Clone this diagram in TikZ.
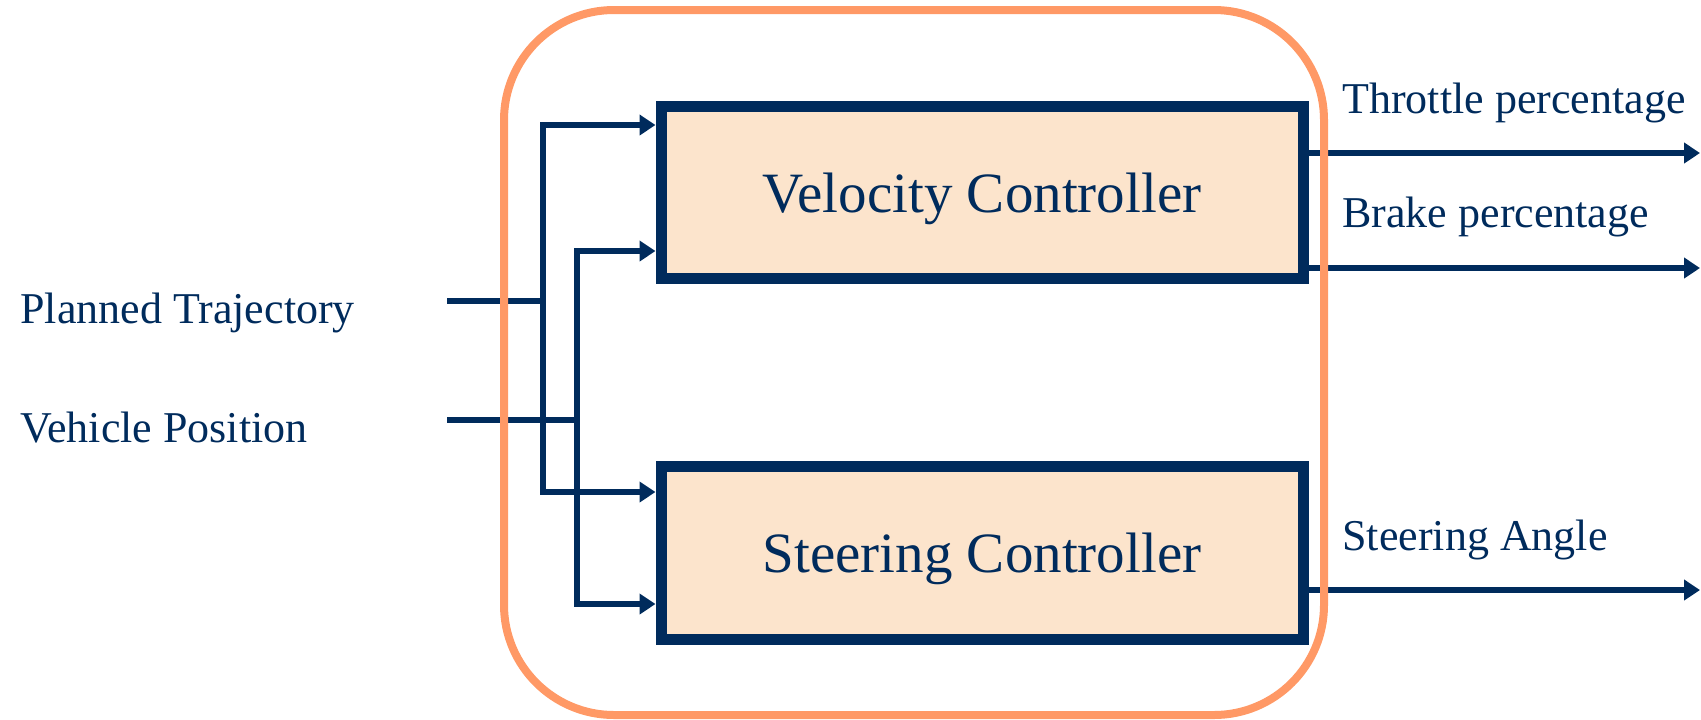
\documentclass[tikz,border=0pt]{standalone}
\usepackage{fontspec}
\setmainfont{Liberation Serif}
\usetikzlibrary{arrows.meta,positioning}

\definecolor{ctrlnavy}{HTML}{002B5C}
\definecolor{ctrlfill}{HTML}{FCE4CC}
\definecolor{frameorange}{HTML}{FF9966}

\begin{document}
\begin{tikzpicture}[
    x=0.5pt, y=-0.5pt,
    % Node styles
    ctrl/.style={draw=ctrlnavy, line width=5.5pt, fill=ctrlfill, minimum width=321pt, minimum height=86pt,
                 text=ctrlnavy, font=\fontsize{28.5}{34}\selectfont, text height=20pt, text depth=0pt},
    lbl/.style={anchor=base west, inner sep=0pt, text=ctrlnavy, font=\fontsize{22}{26}\selectfont},
    wire/.style={draw=ctrlnavy, line width=3.25pt},
    arrow/.style={wire, -{Triangle[length=8pt,width=10pt]}},
    frame/.style={draw=frameorange, line width=4pt, rounded corners=55pt},
]
    \useasboundingbox (0,0) rectangle (1701,719);

    % Controllers
    \node[ctrl] (vel) at (982,192) {Velocity Controller};
    \node[ctrl, minimum height=86.5pt] (steer) at (982,552.5) {Steering Controller};

    % Inputs
    \node[lbl] (plan) at (20,323) {Planned Trajectory};
    \node[lbl] (veh) at (20,442) {Vehicle Position};
    \coordinate (planin) at (447,301);
    \coordinate (vehin) at (447,420);
    \coordinate (busA) at (543,301);
    \coordinate (busB) at (577,420);

    \draw[wire] (planin) -- (busA);
    \draw[wire] (vehin) -- (busB);
    \draw[arrow] (busA) |- (vel.west |- 0,125);
    \draw[arrow] (busA) |- (steer.west |- 0,492);
    \draw[arrow] (busB) |- (vel.west |- 0,251);
    \draw[arrow] (busB) |- (steer.west |- 0,604);

    % Outputs
    \coordinate (thrOut) at (1700,153);
    \coordinate (brkOut) at (1700,268);
    \coordinate (strOut) at (1700,590);
    \draw[arrow] (vel.east |- thrOut) -- (thrOut);
    \draw[arrow] (vel.east |- brkOut) -- (brkOut);
    \draw[arrow] (steer.east |- strOut) -- (strOut);

    \node[lbl] (thr) at (1342,113) {Throttle percentage};
    \node[lbl] (brk) at (1342,227) {Brake percentage};
    \node[lbl] (ang) at (1342,550) {Steering Angle};

    % Controller frame
    \draw[frame] (504,10) rectangle (1324,715);

\end{tikzpicture}
\end{document}
